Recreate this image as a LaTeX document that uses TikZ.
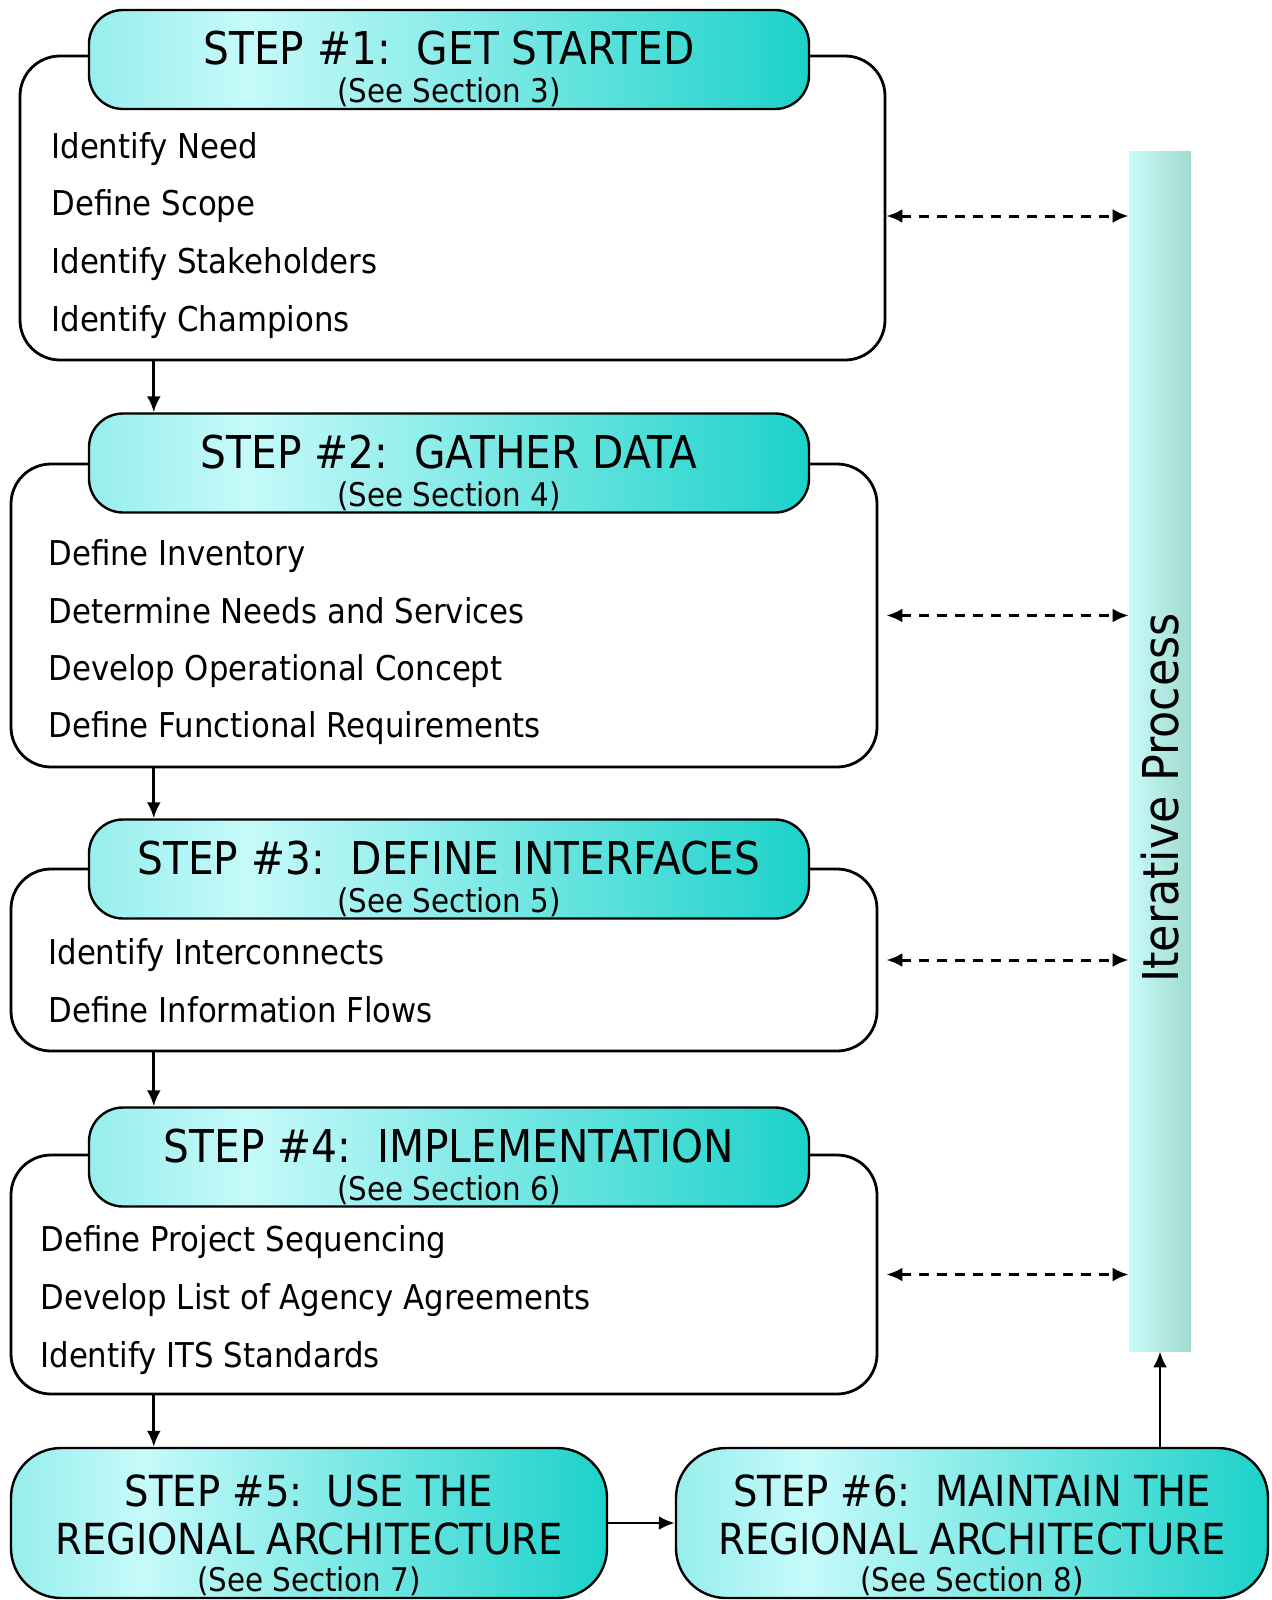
\documentclass[tikz,border=0pt]{standalone}
\usepackage{fontspec}
\setmainfont[FakeStretch=0.9]{DejaVu Sans}
\usetikzlibrary{arrows.meta}

\definecolor{stepEdge}{RGB}{150,238,236}
\definecolor{stepLight}{RGB}{198,250,250}
\definecolor{stepDark}{RGB}{28,210,202}
\definecolor{barLight}{RGB}{200,250,250}
\definecolor{barDark}{RGB}{160,218,206}
% path covers 25bp..75bp of the shading
\pgfdeclarehorizontalshading{stepshade}{100bp}{color(0bp)=(stepEdge); color(25bp)=(stepEdge); color(36bp)=(stepLight); color(75bp)=(stepDark); color(100bp)=(stepDark)}

\newcommand{\headfont}{\fontsize{22.6}{19}\selectfont}
\newcommand{\finalfont}{\fontsize{21.4}{24}\selectfont}
\newcommand{\subfont}{\fontsize{16.3}{18}\selectfont}
\newcommand{\itemfont}{\fontsize{17.1}{20}\selectfont}
\newcommand{\headstrut}{\rule{0pt}{26.5pt}}
\newcommand{\finalstrut}{\rule{0pt}{28pt}}

\tikzset{
  stepbody/.style={draw, line width=1.4pt, rounded corners=20pt, fill=white, inner sep=0pt},
  stephead/.style={draw, line width=1.2pt, rounded corners=17pt, shading=stepshade,
    minimum width=360pt, minimum height=49.5pt, inner sep=0pt, align=center, font=\headfont},
  stepfinal/.style={draw, line width=1.2pt, rounded corners=25pt, shading=stepshade,
    minimum height=75pt, inner sep=0pt, align=center, font=\finalfont},
  stepitem/.style={anchor=base west, inner sep=0pt, font=\itemfont},
  iterbar/.style={left color=barLight, right color=barDark, minimum width=31pt, minimum height=600pt, inner sep=0pt},
  flow/.style={line width=1.4pt, -{Latex[length=8pt,width=7pt]}},
  iterlink/.style={line width=1.5pt, dash pattern=on 5pt off 4pt, {Latex[length=8pt,width=7pt]}-{Latex[length=8pt,width=7pt]}}
}

\begin{document}
\begin{tikzpicture}[x=0.5pt, y=-0.5pt]
  \useasboundingbox (0,0) rectangle (1272,1600);

  % iterative process bar
  \node[iterbar] (bar) at (1160,751) {};
  \node[rotate=90, inner sep=0pt, font=\fontsize{24.7}{28}\selectfont] (iter) at (1160,798) {Iterative Process};

  % step 1
  \node[stepbody, minimum width=432.5pt, minimum height=152pt] (body1) at (452.5,208) {};
  \node[stephead] (head1) at (449,59.5) {\headstrut STEP \#1:\ \ GET STARTED\\{\subfont (See Section 3)}};
  \node[stepitem] (need) at (51,158) {Identify Need};
  \node[stepitem] (scope) at (51,215) {Define Scope};
  \node[stepitem] (stakeholders) at (51,273) {Identify Stakeholders};
  \node[stepitem] (champions) at (51,331) {Identify Champions};

  % step 2
  \node[stepbody, minimum width=433pt, minimum height=151.5pt] (body2) at (444,615.5) {};
  \node[stephead] (head2) at (449,463) {\headstrut STEP \#2:\ \ GATHER DATA\\{\subfont (See Section 4)}};
  \node[stepitem] (inventory) at (48,565) {Define Inventory};
  \node[stepitem] (needs) at (48,623) {Determine Needs and Services};
  \node[stepitem] (opconcept) at (48,680) {Develop Operational Concept};
  \node[stepitem] (funcreq) at (48,737) {Define Functional Requirements};

  % step 3
  \node[stepbody, minimum width=433pt, minimum height=91pt] (body3) at (444,960) {};
  \node[stephead] (head3) at (449,869) {\headstrut STEP \#3:\ \ DEFINE INTERFACES\\{\subfont (See Section 5)}};
  \node[stepitem] (interconnects) at (48,964) {Identify Interconnects};
  \node[stepitem] (infoflows) at (48,1022) {Define Information Flows};

  % step 4
  \node[stepbody, minimum width=433pt, minimum height=119.5pt] (body4) at (444,1274.5) {};
  \node[stephead] (head4) at (449,1157) {\headstrut STEP \#4:\ \ IMPLEMENTATION\\{\subfont (See Section 6)}};
  \node[stepitem] (sequencing) at (40,1251) {Define Project Sequencing};
  \node[stepitem] (agreements) at (40,1309) {Develop List of Agency Agreements};
  \node[stepitem] (standards) at (40,1367) {Identify ITS Standards};

  % steps 5 and 6
  \node[stepfinal, minimum width=298pt] (step5) at (309,1523)
    {\finalstrut STEP \#5:\ \ USE THE\\REGIONAL ARCHITECTURE\\[-5.5pt]{\subfont (See Section 7)}};
  \node[stepfinal, minimum width=296pt] (step6) at (972,1523)
    {\finalstrut STEP \#6:\ \ MAINTAIN THE\\REGIONAL ARCHITECTURE\\[-5.5pt]{\subfont (See Section 8)}};

  % flow between steps
  \path ([xshift=33pt]head2.north west) coordinate (a2);
  \path ([xshift=33pt]head3.north west) coordinate (a3);
  \path ([xshift=33pt]head4.north west) coordinate (a4);
  \path (head4.west |- step5.north) ++(33pt,0) coordinate (a5);
  \draw[flow] (body1.south -| a2) -- (a2);
  \draw[flow] (body2.south -| a3) -- (a3);
  \draw[flow] (body3.south -| a4) -- (a4);
  \draw[flow] (body4.south -| a5) -- (a5);
  \draw[flow] (step5.east) -- (step6.west);
  \draw[flow] (bar.south |- step6.north) -- (bar.south);

  % iteration links
  \draw[iterlink] ([yshift=-4pt]body1.east) -- ([yshift=-4pt]body1.east -| bar.west);
  \draw[iterlink] ([xshift=4pt]body2.east) -- (body2.east -| bar.west);
  \draw[iterlink] ([xshift=4pt]body3.east) -- (body3.east -| bar.west);
  \draw[iterlink] ([xshift=4pt]body4.east) -- (body4.east -| bar.west);
\end{tikzpicture}
\end{document}
